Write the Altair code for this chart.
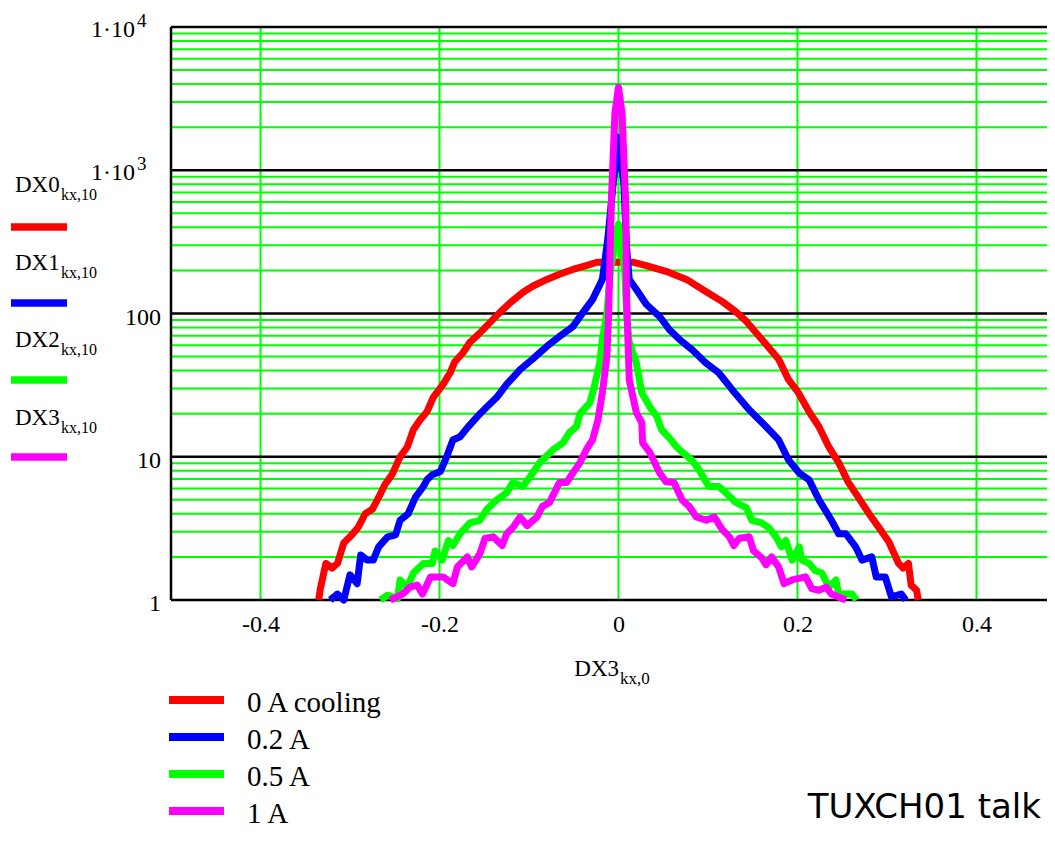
import altair as alt
import pandas as pd

# ---------------- data ----------------
red_x = [-0.335, -0.333, -0.327, -0.320, -0.314, -0.307, -0.300, -0.291, -0.283, -0.275, -0.268, -0.261,
         -0.253, -0.244, -0.236, -0.229, -0.222, -0.214, -0.207, -0.196, -0.188, -0.183, -0.174, -0.166,
         -0.155, -0.144, -0.133, -0.121, -0.107, -0.096, -0.080, -0.066, -0.051, -0.036, -0.024, -0.010,
         0.001, 0.016, 0.031, 0.053, 0.076, 0.098, 0.116, 0.131, 0.143, 0.160, 0.179, 0.190, 0.201, 0.213,
         0.224, 0.235, 0.246, 0.257, 0.268, 0.280, 0.291, 0.302, 0.313, 0.318, 0.324, 0.327, 0.333, 0.335]
red_y = [1.0, 1.21, 1.8, 1.67, 1.8, 2.5, 2.76, 3.2, 4.0, 4.3, 5.2, 6.4, 7.5, 10, 11.7, 15.5, 18, 20.6, 26,
         32, 38.7, 46, 53, 63, 73, 86, 101, 119, 140, 155, 173, 188, 203, 216, 228, 228, 228, 228, 216, 197,
         173, 142, 121, 103, 88, 66, 48, 34.5, 28, 20.6, 16.2, 11.7, 9.1, 6.6, 5.2, 4.0, 3.2, 2.55, 1.8,
         1.67, 1.8, 1.27, 1.17, 1.0]

blue_x = [-0.322, -0.314, -0.307, -0.300, -0.292, -0.288, -0.281, -0.274, -0.268, -0.258, -0.249, -0.244,
          -0.235, -0.227, -0.218, -0.214, -0.208, -0.199, -0.192, -0.185, -0.177, -0.169, -0.158, -0.147,
          -0.136, -0.125, -0.110, -0.096, -0.080, -0.066, -0.051, -0.040, -0.029, -0.018, -0.012, -0.006,
          0.0, 0.006, 0.009, 0.012, 0.020, 0.031, 0.046, 0.057, 0.068, 0.082, 0.098, 0.112, 0.127, 0.146,
          0.165, 0.179, 0.190, 0.202, 0.213, 0.224, 0.238, 0.246, 0.254, 0.265, 0.272, 0.283, 0.288, 0.298,
          0.305, 0.316, 0.321]
blue_y = [1.0, 1.1, 1.0, 1.5, 1.3, 2.06, 1.9, 1.9, 2.35, 2.76, 2.85, 3.6, 4.0, 5.2, 6.2, 6.9, 7.5, 7.9, 10,
          13.1, 13.8, 15.9, 19, 22.3, 26, 32, 40.6, 48, 59, 69, 81, 101, 125, 173, 330, 800, 1700, 800, 290,
          173, 147, 116, 95, 77, 66, 56, 45, 38.6, 29.4, 21.3, 16.2, 13.1, 9.5, 7.7, 6.9, 5.0, 3.6, 2.9, 2.9,
          2.35, 1.9, 2.0, 1.45, 1.45, 1.05, 1.1, 1.0]

green_x = [-0.266, -0.258, -0.247, -0.244, -0.236, -0.229, -0.218, -0.208, -0.205, -0.197, -0.190, -0.185,
           -0.177, -0.166, -0.155, -0.147, -0.136, -0.125, -0.118, -0.107, -0.099, -0.088, -0.073, -0.062,
           -0.055, -0.047, -0.043, -0.032, -0.027, -0.021, -0.018, -0.013, -0.009, 0.0, 0.007, 0.009, 0.012,
           0.020, 0.026, 0.035, 0.043, 0.048, 0.057, 0.065, 0.071, 0.082, 0.090, 0.101, 0.112, 0.120, 0.131,
           0.143, 0.149, 0.160, 0.168, 0.176, 0.182, 0.187, 0.194, 0.202, 0.205, 0.213, 0.220, 0.227, 0.235,
           0.243, 0.246, 0.261, 0.266]
green_y = [1.0, 1.08, 1.02, 1.38, 1.23, 1.55, 1.8, 1.8, 2.2, 1.9, 2.6, 2.4, 2.9, 3.45, 3.6, 4.3, 5.0, 5.6,
           6.6, 6.2, 7.2, 9.1, 11.2, 12.5, 14.7, 16.2, 20, 23.8, 31, 45, 66, 100, 200, 420, 200, 100, 63, 45,
           28, 22.3, 19, 15.5, 13.5, 11.7, 10.8, 9.5, 8.1, 6.2, 6.2, 5.6, 4.8, 4.4, 3.6, 3.45, 3.2, 2.76,
           2.35, 2.6, 1.9, 2.35, 1.9, 1.8, 1.6, 1.55, 1.23, 1.38, 1.1, 1.1, 1.0]

mag_x = [-0.255, -0.241, -0.233, -0.225, -0.219, -0.210, -0.203, -0.196, -0.185, -0.180, -0.169, -0.164,
         -0.155, -0.149, -0.140, -0.130, -0.125, -0.118, -0.110, -0.102, -0.091, -0.085, -0.077, -0.066,
         -0.058, -0.051, -0.043, -0.036, -0.029, -0.023, -0.018, -0.013, -0.011, -0.008, -0.004, 0.0, 0.004,
         0.008, 0.009, 0.012, 0.020, 0.026, 0.027, 0.035, 0.046, 0.053, 0.062, 0.071, 0.079, 0.087, 0.098,
         0.107, 0.116, 0.124, 0.129, 0.135, 0.146, 0.151, 0.160, 0.165, 0.171, 0.179, 0.185, 0.194, 0.209,
         0.216, 0.224, 0.232, 0.238, 0.254]
mag_y = [1.0, 1.1, 1.23, 1.27, 1.1, 1.45, 1.45, 1.45, 1.3, 1.7, 2.0, 1.7, 2.1, 2.7, 2.76, 2.4, 2.9, 3.2, 3.8,
         3.3, 3.8, 4.5, 4.8, 6.6, 6.6, 7.7, 9.1, 11.2, 13.1, 18, 28, 50, 100, 600, 2500, 3800, 2500, 600, 130,
         34.5, 20.3, 17.3, 12.5, 10.7, 7.7, 6.7, 6.6, 5.0, 4.5, 3.8, 3.6, 3.8, 3.1, 2.76, 2.4, 2.7, 2.76, 2.2,
         1.97, 1.76, 2.0, 1.7, 1.3, 1.38, 1.45, 1.2, 1.17, 1.23, 1.1, 1.0]

series_names = ["0 A cooling", "0.2 A", "0.5 A", "1 A"]
series_colors = ["#ff0000", "#0000ff", "#00ff00", "#ff00ff"]
left_legend_names = ["DX0", "DX1", "DX2", "DX3"]
left_legend_sub = "kx,10"
x_title, x_title_sub = "DX3", "kx,0"
x_ticks = [-0.4, -0.2, 0, 0.2, 0.4]
y_decades = [1, 10, 100, 1000, 10000]
y_plain_vals, y_plain_text = [1, 10, 100], ["1", "10", "100"]
y_exp_vals, y_exp_base, y_exp_sup = [1000, 10000], ["1·10", "1·10"], ["3", "4"]
y_minor = [m * 10 ** k for k in range(4) for m in range(2, 10)]
corner_note = "TUXCH01 talk"

# ---------------- layout ----------------
W, H = 876, 573
SERIF = "Liberation Serif"
GREEN = "#00ff00"

xs = alt.Scale(domain=[-0.5, 0.4788], nice=False, zero=False)
ys = alt.Scale(type="log", domain=[1, 10000], nice=False)

xaxis = alt.Axis(values=x_ticks, title=None, ticks=False, tickSize=0, domain=False, grid=False,
                 labelExpr="datum.value == 0 ? '0' : (datum.value < 0 ? '-' : '') + format(abs(datum.value), '.1f')",
                 labelFont=SERIF, labelFontSize=24, labelColor="black", labelPadding=24,
                 labelBaseline="middle", labelFlush=False)

one = pd.DataFrame({"a": [0]})


def txt(text, x, y, size, align="left", font=SERIF, baseline="middle"):
    return alt.Chart(pd.DataFrame({"t": [text]})).mark_text(
        align=align, baseline=baseline, font=font, fontSize=size, color="black"
    ).encode(x=alt.value(x), y=alt.value(y), text="t:N")


layers = []

# minor horizontal green grid
layers.append(alt.Chart(pd.DataFrame({"y": y_minor})).mark_rule(color=GREEN, strokeWidth=2).encode(
    y=alt.Y("y:Q", scale=ys, axis=None)))
# vertical green grid
layers.append(alt.Chart(pd.DataFrame({"x": x_ticks})).mark_rule(color=GREEN, strokeWidth=2).encode(
    x=alt.X("x:Q", scale=xs, axis=xaxis)))
# black decade lines
layers.append(alt.Chart(pd.DataFrame({"y": y_decades})).mark_rule(color="black", strokeWidth=2.5).encode(
    y=alt.Y("y:Q", scale=ys, axis=None)))
# left axis line
layers.append(alt.Chart(one).mark_rule(color="black", strokeWidth=2.5).encode(x=alt.value(0)))

# data curves
all_x = [red_x, blue_x, green_x, mag_x]
all_y = [red_y, blue_y, green_y, mag_y]
for name, col, sx, sy in zip(series_names, series_colors, all_x, all_y):
    df = pd.DataFrame({"x": sx, "y": sy, "i": list(range(len(sx)))})
    layers.append(alt.Chart(df).mark_line(color=col, strokeWidth=7, strokeJoin="round").encode(
        x=alt.X("x:Q", scale=xs, axis=xaxis),
        y=alt.Y("y:Q", scale=ys, axis=None),
        order="i:Q"))

# y tick labels
layers.append(alt.Chart(pd.DataFrame({"y": y_plain_vals, "t": y_plain_text})).mark_text(
    align="right", baseline="middle", font=SERIF, fontSize=24, color="black", dy=4).encode(
    x=alt.value(-10), y=alt.Y("y:Q", scale=ys, axis=None), text="t:N"))
layers.append(alt.Chart(pd.DataFrame({"y": y_exp_vals, "t": y_exp_base})).mark_text(
    align="right", baseline="middle", font=SERIF, fontSize=24, color="black", dy=3).encode(
    x=alt.value(-36), y=alt.Y("y:Q", scale=ys, axis=None), text="t:N"))
layers.append(alt.Chart(pd.DataFrame({"y": y_exp_vals, "t": y_exp_sup})).mark_text(
    align="left", baseline="middle", font=SERIF, fontSize=19, color="black", dy=-6).encode(
    x=alt.value(-34), y=alt.Y("y:Q", scale=ys, axis=None), text="t:N"))

# x axis title
layers.append(txt(x_title, 448, 642, 23, align="right"))
layers.append(txt(x_title_sub, 449, 652, 17))

# left legend (series names)
left_text_y = [158, 236, 313, 391]
left_line_y = [200, 276, 353, 430]
for nm, col, ty, ly in zip(left_legend_names, series_colors, left_text_y, left_line_y):
    layers.append(txt(nm, -156, ty, 23))
    layers.append(txt(left_legend_sub, -110, ty + 10, 16))
    layers.append(alt.Chart(one).mark_rule(color=col, strokeWidth=7.5).encode(
        x=alt.value(-160), x2=alt.value(-104), y=alt.value(ly)))

# bottom legend
bot_line_y = [673, 710, 747, 784]
for nm, col, ly in zip(series_names, series_colors, bot_line_y):
    layers.append(alt.Chart(one).mark_rule(color=col, strokeWidth=8).encode(
        x=alt.value(-2), x2=alt.value(53), y=alt.value(ly)))
    layers.append(txt(nm, 76, ly + 2.5, 29))

# corner note
layers.append(txt(corner_note, 870, 791, 34, align="right", font="DejaVu Sans", baseline="alphabetic"))

chart = alt.layer(*layers).properties(
    width=W, height=H,
    padding={"left": 163, "top": 19, "right": 0, "bottom": 228},
    autosize=alt.AutoSizeParams(type="none"),
    background="white",
).configure_view(strokeWidth=0)

chart.save("out.html", embed_options={"renderer": "svg", "actions": False})
